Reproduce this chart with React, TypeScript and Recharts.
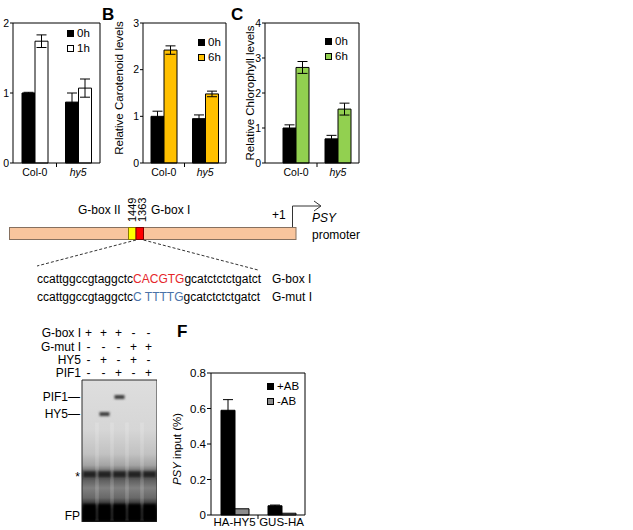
import React from "react";
import {
  BarChart,
  Bar,
  XAxis,
  YAxis,
  ErrorBar,
  ScatterChart,
  Scatter,
  ReferenceArea,
} from "recharts";

const FONT = '"Liberation Sans", Arial, Helvetica, sans-serif';

// A - relative transcript levels
const genotypes = ["Col-0", "hy5"];
const italicCats = ["hy5"];
const aTicks = [0, 1, 2];
const a0h = [1.0, 0.87];
const a0hErr = [0.01, 0.13];
const a1h = [1.74, 1.07];
const a1hErr = [0.09, 0.13];

// B - carotenoids
const bTicks = [0, 1, 2, 3];
const b0h = [1.0, 0.95];
const b0hErr = [0.11, 0.08];
const b6h = [2.42, 1.48];
const b6hErr = [0.09, 0.06];

// C - chlorophyll
const cTicks = [0, 1, 2, 3, 4];
const c0h = [1.0, 0.69];
const c0hErr = [0.09, 0.1];
const c6h = [2.73, 1.54];
const c6hErr = [0.17, 0.17];

// F - ChIP
const chipCats = ["HA-HY5", "GUS-HA"];
const fTicks = [0, 0.2, 0.4, 0.6, 0.8];
const fPlus = [0.59, 0.052];
const fPlusErr = [0.06, 0.004];
const fMinus = [0.035, 0.01];

// EMSA
const lanes = [1, 2, 3, 4, 5];
const gelRowNames = ["G-box I", "G-mut I", "HY5", "PIF1"];
const gboxI = ["+", "+", "+", "-", "-"];
const gmutI = ["-", "-", "-", "+", "+"];
const hy5Added = ["-", "+", "-", "+", "-"];
const pif1Added = ["-", "-", "+", "-", "+"];
const gelMarkNames = ["PIF1\u2014", "HY5\u2014", "*", "FP"];
const gelMarkPos = [12, 24, 66.5, 96];
const shiftLanes = [2, 3];
const shiftPos = [24, 12];
const nsPos = 66.5;
const fpPos = 93;

// promoter sequences
const seqLeft = "ccattggccgtaggctc";
const seqRight = "gcatctctctgatct";
const gboxCore = "CACGTG";
const gmutCore = "C TTTTG";

type Series = {
  key: string;
  name: string;
  fill: string;
  values: number[];
  errors?: number[];
};

type PanelProps = {
  left: number;
  top: number;
  width: number;
  height: number;
  mTop: number;
  yW: number;
  xH: number;
  xDy: number;
  cats: string[];
  series: Series[];
  ticks: number[];
  fmt?: (v: number) => string;
  barSize: number;
  padL?: number;
  fs: number;
  tickSize: number;
  title?: { t: string; it?: boolean }[];
  titleDx?: number;
  titleDy?: number;
  legend: { x: number; y: number; gap: number };
};

function CatTick(props: any) {
  const { x, y, payload, index, half, fs, dy } = props;
  const it = italicCats.includes(payload.value);
  return (
    <g>
      {index === 0 && (
        <line x1={x + half} x2={x + half} y1={y} y2={y + 4} stroke="#000" />
      )}
      <text
        x={x}
        y={y + dy}
        textAnchor="middle"
        fontSize={fs}
        fill="#000"
        fontStyle={it ? "italic" : "normal"}
      >
        {payload.value}
      </text>
    </g>
  );
}

function BarPanel(p: PanelProps) {
  const data = p.cats.map((c, i) => {
    const row: Record<string, string | number> = { cat: c };
    p.series.forEach((s) => {
      row[s.key] = s.values[i];
      if (s.errors) row[s.key + "Err"] = s.errors[i];
    });
    return row;
  });
  const padL = p.padL ?? 0;
  // right frame axis is 1px wide
  const plotW = p.width - p.yW - 1;
  const half = (plotW - padL) / p.cats.length / 2;
  const title = p.title;

  return (
    <div style={{ position: "absolute", left: p.left, top: p.top }}>
      <BarChart
        width={p.width}
        height={p.height}
        data={data}
        margin={{ top: p.mTop - 1, right: 0, bottom: 0, left: 0 }}
        barGap={0}
        barSize={p.barSize}
      >
        <XAxis
          dataKey="cat"
          height={p.xH}
          interval={0}
          padding={{ left: padL, right: 0 }}
          axisLine={{ stroke: "#000" }}
          tickLine={false}
          tickSize={0}
          tickMargin={0}
          tick={(t: any) => (
            <CatTick {...t} half={half} fs={p.fs} dy={p.xDy} />
          )}
        />
        <XAxis
          xAxisId="frame"
          orientation="top"
          height={1}
          tick={false}
          tickLine={false}
          axisLine={{ stroke: "#000" }}
        />
        <YAxis
          width={p.yW}
          domain={[p.ticks[0], p.ticks[p.ticks.length - 1]]}
          ticks={p.ticks}
          interval={0}
          tickFormatter={p.fmt}
          axisLine={{ stroke: "#000" }}
          tickLine={{ stroke: "#000" }}
          tickSize={p.tickSize}
          tickMargin={1}
          tick={{ fontSize: p.fs, fill: "#000" }}
          label={
            title
              ? {
                  content: ({ viewBox }: any) => {
                    const cx = viewBox.x + (p.titleDx ?? 10);
                    const cy = viewBox.y + viewBox.height / 2 + (p.titleDy ?? 0);
                    return (
                      <text
                        x={cx}
                        y={cy}
                        transform={`rotate(-90 ${cx} ${cy})`}
                        textAnchor="middle"
                        dominantBaseline="central"
                        fontSize={11.5}
                        fill="#000"
                      >
                        {title.map((s, i) => (
                          <tspan key={i} fontStyle={s.it ? "italic" : "normal"}>
                            {s.t}
                          </tspan>
                        ))}
                      </text>
                    );
                  },
                }
              : undefined
          }
        />
        <YAxis
          yAxisId="frame"
          orientation="right"
          type="number"
          domain={[0, 1]}
          width={1}
          tick={false}
          tickLine={false}
          axisLine={{ stroke: "#000" }}
        />
        {p.series.map((s) => (
          <Bar
            key={s.key}
            dataKey={s.key}
            name={s.name}
            fill={s.fill}
            stroke="#000"
            strokeWidth={1}
            isAnimationActive={false}
          >
            {s.errors && (
              <ErrorBar
                dataKey={s.key + "Err"}
                width={5}
                stroke="#000"
                strokeWidth={1}
              />
            )}
          </Bar>
        ))}
      </BarChart>
      <div
        style={{
          position: "absolute",
          left: p.legend.x - p.left,
          top: p.legend.y - p.top - p.legend.gap / 2,
          fontSize: 11.5,
          color: "#000",
        }}
      >
        {p.series.map((s) => (
          <div
            key={s.key}
            style={{ display: "flex", alignItems: "center", height: p.legend.gap }}
          >
            <span
              style={{
                display: "inline-block",
                width: 5,
                height: 5,
                border: "1px solid #000",
                background: s.fill,
                marginRight: 3,
              }}
            />
            {s.name}
          </div>
        ))}
      </div>
    </div>
  );
}

function LaneTick(props: any) {
  const { x, y, payload, index } = props;
  const i = lanes.indexOf(payload.value);
  const rows = [gboxI, gmutI, hy5Added, pif1Added];
  const rowY = [-47, -33.5, -20, -7.3];
  return (
    <g fontSize={12} fill="#000">
      {rows.map((r, k) => (
        <text
          key={k}
          x={x - 1}
          y={y + rowY[k]}
          textAnchor="middle"
          dominantBaseline="central"
        >
          {r[i]}
        </text>
      ))}
      {index === 0 &&
        gelRowNames.map((n, k) => (
          <text
            key={n}
            x={x - 8.5}
            y={y + rowY[k]}
            textAnchor="end"
            dominantBaseline="central"
          >
            {n}
          </text>
        ))}
    </g>
  );
}

function MarkTick(props: any) {
  const { x, y, payload } = props;
  const label = gelMarkNames[gelMarkPos.indexOf(payload.value)];
  const star = label === "*";
  return (
    <text
      x={x - 2}
      y={star ? y + 7 : y}
      textAnchor="end"
      dominantBaseline={star ? "auto" : "central"}
      fontSize={12}
      fill="#000"
    >
      {label}
    </text>
  );
}

function Gel() {
  const ns = lanes.map((l) => ({ lane: l, pos: nsPos }));
  const fp = lanes.map((l) => ({ lane: l, pos: fpPos }));
  const shifted = shiftLanes.map((l, i) => ({ lane: l, pos: shiftPos[i] }));
  const gaps = lanes.slice(1).map((l) => l - 0.5);

  return (
    <div style={{ position: "absolute", left: 0, top: 326 }}>
      <ScatterChart
        width={157}
        height={196}
        margin={{ top: 0, right: 0, bottom: 0, left: 0 }}
      >
        <defs>
          <linearGradient id="gelBg" x1="0" y1="0" x2="0" y2="1">
            <stop offset="0" stopColor="#dedede" />
            <stop offset="0.35" stopColor="#d6d6d6" />
            <stop offset="0.52" stopColor="#c2c2c2" />
            <stop offset="0.6" stopColor="#a4a4a4" />
            <stop offset="0.645" stopColor="#6a6a6a" />
            <stop offset="0.7" stopColor="#5c5c5c" />
            <stop offset="0.76" stopColor="#808080" />
            <stop offset="0.83" stopColor="#686868" />
            <stop offset="0.87" stopColor="#353535" />
            <stop offset="0.91" stopColor="#0c0c0c" />
            <stop offset="1" stopColor="#030303" />
          </linearGradient>
          <filter id="gelBlur" x="-50%" y="-80%" width="200%" height="260%">
            <feGaussianBlur stdDeviation="1" />
          </filter>
        </defs>
        <XAxis
          type="number"
          dataKey="lane"
          orientation="top"
          domain={[0.5, 5.5]}
          ticks={lanes}
          interval={0}
          height={54}
          axisLine={false}
          tickLine={false}
          tickSize={0}
          tickMargin={0}
          tick={(t: any) => <LaneTick {...t} />}
        />
        <YAxis
          type="number"
          dataKey="pos"
          domain={[0, 100]}
          reversed
          ticks={gelMarkPos}
          interval={0}
          width={82}
          axisLine={false}
          tickLine={false}
          tickSize={0}
          tickMargin={0}
          tick={(t: any) => <MarkTick {...t} />}
        />
        <ReferenceArea
          x1={0.5}
          x2={5.5}
          y1={0}
          y2={100}
          fill="url(#gelBg)"
          fillOpacity={1}
          stroke="#2a2a2a"
          strokeWidth={1}
        />
        {gaps.map((g) => (
          <ReferenceArea
            key={g}
            x1={g - 0.12}
            x2={g + 0.12}
            y1={30}
            y2={99}
            fill="#ffffff"
            fillOpacity={0.16}
            stroke="none"
          />
        ))}
        <Scatter
          data={ns}
          isAnimationActive={false}
          shape={(s: any) => (
            <rect
              x={s.cx - 6.5}
              y={s.cy - 3}
              width={13}
              height={6}
              fill="#222"
              filter="url(#gelBlur)"
            />
          )}
        />
        <Scatter
          data={fp}
          isAnimationActive={false}
          shape={(s: any) => (
            <rect
              x={s.cx - 6.5}
              y={s.cy - 8}
              width={13}
              height={16}
              fill="#000"
              filter="url(#gelBlur)"
            />
          )}
        />
        <Scatter
          data={shifted}
          isAnimationActive={false}
          shape={(s: any) => (
            <rect
              x={s.cx - 5}
              y={s.cy - 2}
              width={10}
              height={4}
              fill="#404040"
              filter="url(#gelBlur)"
            />
          )}
        />
      </ScatterChart>
    </div>
  );
}

function Overlay() {
  return (
    <svg
      width={633}
      height={530}
      style={{ position: "absolute", left: 0, top: 0 }}
      fontFamily={FONT}
    >
      <text x={102} y={20} fontSize={17} fontWeight="bold">B</text>
      <text x={231} y={20} fontSize={17} fontWeight="bold">C</text>
      <text x={177} y={337} fontSize={17} fontWeight="bold">F</text>

      <text x={78} y={214} fontSize={12}>G-box II</text>
      <text x={151} y={214} fontSize={12}>G-box I</text>
      <text transform="translate(136 222) rotate(-90)" fontSize={11}>1449</text>
      <text transform="translate(145.5 222) rotate(-90)" fontSize={11}>1363</text>
      <rect x={9.5} y={227.5} width={286.5} height={12} fill="#F9C59D" stroke="#86705f" />
      <rect x={128.5} y={227.5} width={7.5} height={12} fill="#FFFF00" stroke="#8a7a00" />
      <rect x={136} y={227.5} width={7.5} height={12} fill="#FF0000" stroke="#7a0000" />
      <text x={272} y={219} fontSize={12}>+1</text>
      <path d="M292.5 227 V206 H320" fill="none" stroke="#333" />
      <path d="M314 201 L321 206 L314 211" fill="none" stroke="#333" />
      <text x={312} y={222} fontSize={12} fontStyle="italic">PSY</text>
      <text x={312} y={239} fontSize={12}>promoter</text>
      <line x1={136} y1={240} x2={37} y2={266} stroke="#333" strokeDasharray="3 2" />
      <line x1={143.5} y1={240} x2={258} y2={270} stroke="#333" strokeDasharray="3 2" />

      <text x={37} y={283} fontSize={12} xmlSpace="preserve">
        {seqLeft}
        <tspan fill="#E5262A">{gboxCore}</tspan>
        {seqRight}
      </text>
      <text x={272} y={283} fontSize={12}>G-box I</text>
      <text x={37} y={301} fontSize={12} xmlSpace="preserve">
        {seqLeft}
        <tspan fill="#4A72A8">{gmutCore}</tspan>
        {seqRight}
      </text>
      <text x={272} y={301} fontSize={12}>G-mut I</text>
    </svg>
  );
}

export default function App() {
  const fmtF = (v: number) => (v === 0 ? "0" : v.toFixed(1));
  return (
    <div
      style={{
        position: "relative",
        width: 633,
        height: 530,
        background: "#fff",
        fontFamily: FONT,
        overflow: "hidden",
      }}
    >
      <style>{"body{margin:0}"}</style>
      <Overlay />

      <BarPanel
        left={0}
        top={0}
        width={101}
        height={185}
        mTop={23}
        yW={13}
        xH={22}
        xDy={13}
        cats={genotypes}
        ticks={aTicks}
        barSize={13}
        fs={10.5}
        tickSize={3}
        series={[
          { key: "h0", name: "0h", fill: "#000", values: a0h, errors: a0hErr },
          { key: "h1", name: "1h", fill: "#fff", values: a1h, errors: a1hErr },
        ]}
        legend={{ x: 67, y: 33, gap: 15 }}
      />

      <BarPanel
        left={100}
        top={0}
        width={127}
        height={185}
        mTop={23}
        yW={43}
        xH={22}
        xDy={13}
        cats={genotypes}
        ticks={bTicks}
        barSize={13}
        fs={10.5}
        tickSize={3}
        title={[{ t: "Relative Carotenoid levels" }]}
        titleDx={19}
        titleDy={-5}
        series={[
          { key: "h0", name: "0h", fill: "#000", values: b0h, errors: b0hErr },
          { key: "h6", name: "6h", fill: "#FFC000", values: b6h, errors: b6hErr },
        ]}
        legend={{ x: 198, y: 42, gap: 15 }}
      />

      <BarPanel
        left={230}
        top={0}
        width={130}
        height={185}
        mTop={23}
        yW={35}
        xH={22}
        xDy={13}
        cats={genotypes}
        ticks={cTicks}
        barSize={13}
        padL={10}
        fs={10.5}
        tickSize={3}
        title={[{ t: "Relative Chlorophyll levels" }]}
        titleDx={20}
        series={[
          { key: "h0", name: "0h", fill: "#000", values: c0h, errors: c0hErr },
          { key: "h6", name: "6h", fill: "#92D050", values: c6h, errors: c6hErr },
        ]}
        legend={{ x: 325, y: 41, gap: 15 }}
      />

      <Gel />

      <BarPanel
        left={165}
        top={363}
        width={141}
        height={168}
        mTop={10}
        yW={46}
        xH={16}
        xDy={11}
        cats={chipCats}
        ticks={fTicks}
        fmt={fmtF}
        barSize={14}
        fs={11.5}
        tickSize={4}
        title={[{ t: "PSY", it: true }, { t: " input (%)" }]}
        titleDx={12}
        titleDy={5}
        series={[
          { key: "plus", name: "+AB", fill: "#000", values: fPlus, errors: fPlusErr },
          { key: "minus", name: "-AB", fill: "#8c8c8c", values: fMinus },
        ]}
        legend={{ x: 267, y: 386, gap: 15 }}
      />
    </div>
  );
}
